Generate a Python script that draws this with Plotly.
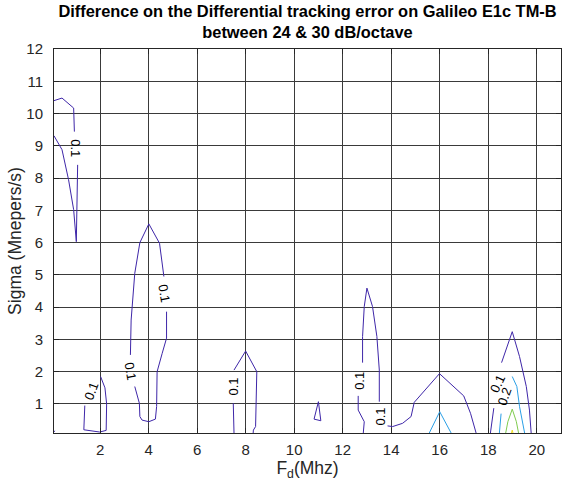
import plotly.graph_objects as go

# ---- data: contour line vertices (F_d in MHz, Sigma in Mnepers/s) ----
# level 0.1 segments
lvl01_a_x = [0.1, 0.43, 0.91, 0.94]
lvl01_a_y = [10.40, 10.48, 10.17, 9.44]
lvl01_b_x = [1.075, 1.02, 0.91, 0.70, 0.43, 0.1]
lvl01_b_y = [8.41, 6.03, 7.02, 7.95, 8.88, 9.31]
lvl01_c_x = [3.25, 3.28, 3.43, 3.64, 4.01, 4.45, 4.63]
lvl01_c_y = [2.52, 3.60, 5.05, 6.00, 6.58, 5.98, 4.95]
lvl01_d_x = [3.43, 3.62, 3.64, 3.73, 4.01, 4.28, 4.33, 4.35, 4.56, 4.74, 4.74]
lvl01_d_y = [1.54, 1.02, 0.61, 0.50, 0.45, 0.53, 0.92, 2.00, 2.57, 3.04, 3.86]
lvl01_e_x = [1.37, 1.33, 1.98, 2.25, 2.27, 2.20, 2.02]
lvl01_e_y = [0.95, 0.20, 0.13, 0.18, 1.00, 1.50, 1.85]
lvl01_f_x = [0.10, 0.13]
lvl01_f_y = [0.13, 0.17]
lvl01_g_x = [7.52, 8.00, 8.46, 8.41, 8.32, 8.31]
lvl01_g_y = [2.05, 2.64, 2.00, 0.30, 0.19, 0.10]
lvl01_h_x = [7.49, 7.52]
lvl01_h_y = [1.02, 0.10]
lvl01_i_x = [11.0, 10.82, 11.1, 11.0]
lvl01_i_y = [1.07, 0.53, 0.48, 1.07]
lvl01_j_x = [12.64, 12.64, 12.89, 12.85]
lvl01_j_y = [1.25, 0.81, 0.45, 0.10]
lvl01_k_x = [12.82, 12.82, 12.89, 13.0, 13.23, 13.41, 13.51, 13.51]
lvl01_k_y = [2.28, 3.09, 4.02, 4.59, 4.02, 3.09, 2.05, 1.07]
lvl01_l_x = [13.85, 14.06, 14.47, 14.82, 14.95, 15.99, 16.99, 17.27, 17.50]
lvl01_l_y = [0.32, 0.30, 0.40, 0.61, 1.05, 1.94, 1.25, 0.71, 0.10]
lvl01_m_x = [18.55, 18.99, 19.29, 19.57, 19.70, 19.77]
lvl01_m_y = [2.28, 3.24, 2.47, 1.54, 0.81, 0.10]
lvl01_n_x = [18.23, 18.09]
lvl01_n_y = [0.87, 0.10]
# level 0.2 segments
lvl02_a_x = [15.57, 16.0, 16.47]
lvl02_a_y = [0.10, 0.76, 0.10]
lvl02_b_x = [18.99, 19.18, 19.29, 19.50]
lvl02_b_y = [1.85, 1.54, 0.92, 0.10]
lvl02_c_x = [18.53, 18.46]
lvl02_c_y = [0.70, 0.10]
# level 0.3
lvl03_x = [18.72, 18.81, 18.99, 19.16, 19.25]
lvl03_y = [0.10, 0.45, 0.84, 0.45, 0.10]
# level 0.4
lvl04_x = [18.96, 18.99, 19.02]
lvl04_y = [0.10, 0.19, 0.10]

# contour labels
label_text = ["0.1", "0.1", "0.1", "0.1", "0.1", "0.1", "0.1", "0.1", "0.2"]
label_x = [1.00, 3.27, 4.64, 1.62, 7.52, 12.72, 13.55, 18.40, 18.68]
label_y = [8.93, 2.02, 4.42, 1.40, 1.54, 1.72, 0.62, 1.62, 1.22]
label_angle = [90, 80, 80, -70, -90, -90, -90, -65, -70]

x_ticks = [2, 4, 6, 8, 10, 12, 14, 16, 18, 20]
y_ticks = [1, 2, 3, 4, 5, 6, 7, 8, 9, 10, 11, 12]

col01 = "#3e26a8"
col02 = "#2a9fe6"
col03 = "#7fcb4e"
col04 = "#f0e022"

FONT = "Liberation Sans, Arial, sans-serif"


def join(pairs):
    xs, ys = [], []
    for px, py in pairs:
        xs += px + [None]
        ys += py + [None]
    return xs, ys


fig = go.Figure()
levels = [
    (col01, [(lvl01_a_x, lvl01_a_y), (lvl01_b_x, lvl01_b_y), (lvl01_c_x, lvl01_c_y),
             (lvl01_d_x, lvl01_d_y), (lvl01_e_x, lvl01_e_y), (lvl01_f_x, lvl01_f_y),
             (lvl01_g_x, lvl01_g_y), (lvl01_h_x, lvl01_h_y), (lvl01_i_x, lvl01_i_y),
             (lvl01_j_x, lvl01_j_y), (lvl01_k_x, lvl01_k_y), (lvl01_l_x, lvl01_l_y),
             (lvl01_m_x, lvl01_m_y), (lvl01_n_x, lvl01_n_y)]),
    (col02, [(lvl02_a_x, lvl02_a_y), (lvl02_b_x, lvl02_b_y), (lvl02_c_x, lvl02_c_y)]),
    (col03, [(lvl03_x, lvl03_y)]),
    (col04, [(lvl04_x, lvl04_y)]),
]
for col, segs in levels:
    xs, ys = join(segs)
    fig.add_trace(go.Scatter(x=xs, y=ys, mode="lines",
                             line=dict(color=col, width=1),
                             hoverinfo="skip", showlegend=False))

for t, x, y, a in zip(label_text, label_x, label_y, label_angle):
    fig.add_annotation(x=x, y=y, text=t, textangle=a, showarrow=False,
                       font=dict(family=FONT, size=13, color="#000000"))

axis_common = dict(
    showgrid=True, gridcolor="#3a3a3a", gridwidth=1,
    showline=True, linecolor="#262626", linewidth=1, mirror="ticks",
    ticks="inside", ticklen=5, tickcolor="#262626",
    tickfont=dict(family=FONT, size=15, color="#262626"),
    zeroline=False, automargin=False,
)

fig.update_layout(
    width=567, height=487,
    margin=dict(l=54, r=6, t=49, b=54, autoexpand=False),
    paper_bgcolor="white", plot_bgcolor="white",
    title=dict(
        text="<b>Difference on the Differential tracking error on Galileo E1c TM-B<br>between 24 & 30 dB/octave</b>",
        x=0.5, xref="paper", xanchor="center",
        y=1 - 17 / 487, yref="container", yanchor="top",
        font=dict(family=FONT, size=16.4, color="#000000"),
        automargin=False,
    ),
    xaxis=dict(range=[0.1, 21], tickvals=x_ticks, ticklabelstandoff=3,
               title=dict(text="F<sub>d</sub>(Mhz)", standoff=0,
                          font=dict(family=FONT, size=17.5, color="#262626")),
               **axis_common),
    yaxis=dict(range=[0.1, 12], tickvals=y_ticks, ticklabelstandoff=7,
               title=dict(text="Sigma (Mnepers/s)", standoff=0,
                          font=dict(family=FONT, size=17.5, color="#262626")),
               **axis_common),
)

# remove the browser's default 8px body margin so the figure fills the window
fig.write_html("out.html", config={"displayModeBar": False},
               post_script="document.body.style.margin='0px';")
